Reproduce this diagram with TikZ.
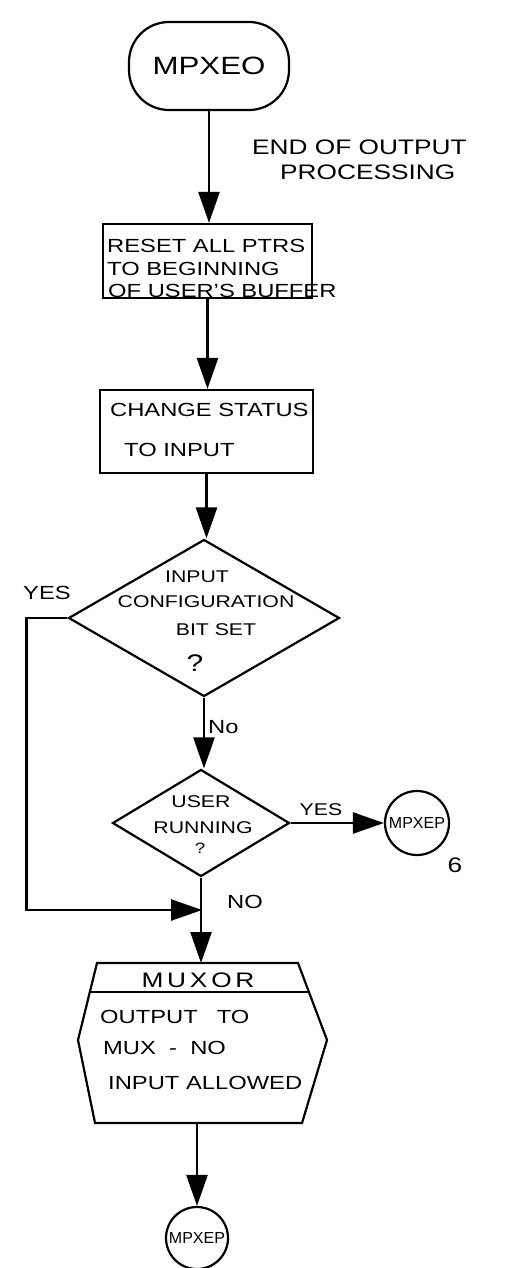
\documentclass[tikz,border=0pt]{standalone}
\usepackage{fontspec}
\setmainfont{Liberation Sans}[FakeStretch=1.25]
\newfontfamily\plainsans{Liberation Sans}
\usetikzlibrary{arrows.meta,shapes.geometric}
\begin{document}
\begin{tikzpicture}[x=1pt,y=-1pt,
  outline/.style={draw, line width=2.2pt, inner sep=0pt},
  flow/.style={line width=2.6pt, -{Triangle[length=31pt,width=21pt]}},
  txt/.style={inner sep=0pt, font=\fontsize{19}{19}\selectfont},
  dtxt/.style={inner sep=0pt, font=\fontsize{17}{17}\selectfont},
  note/.style={inner sep=0pt, font=\fontsize{21}{21}\selectfont},
  conn/.style={outline, circle, minimum size=64pt, font=\plainsans\fontsize{16}{16}\selectfont}
]
\useasboundingbox (0,0) rectangle (507,1268);

% entry terminal
\node[outline, rounded corners=40pt, minimum width=160pt, minimum height=88pt,
      font=\fontsize{25}{25}\selectfont] (start) at (209,66) {MPXEO};
\node[note, anchor=west] (n1) at (252,147) {END OF OUTPUT};
\node[note, anchor=west] (n2) at (280,172) {PROCESSING};

% reset pointers
\node[outline, minimum width=209pt, minimum height=74pt] (reset) at (207.5,261) {};
\node[txt, anchor=west] (r1) at (107,246) {RESET ALL PTRS};
\node[txt, anchor=west] (r2) at (107,269) {TO BEGINNING};
\node[txt, anchor=west] (r3) at (108,291) {OF USER'S BUFFER};

% change status
\node[outline, minimum width=213pt, minimum height=83pt] (status) at (206.5,431.5) {};
\node[txt, anchor=west] (s1) at (110,410) {CHANGE STATUS};
\node[txt, anchor=west] (s2) at (124,450) {TO INPUT};

% first decision
\node[outline, diamond, minimum width=271pt, minimum height=157pt] (d1) at (204,618) {};
\node[dtxt] (d1a) at (197,577) {INPUT};
\node[dtxt] (d1b) at (206,602) {CONFIGURATION};
\node[dtxt] (d1c) at (216,630) {BIT SET};
\node[dtxt, font=\fontsize{24}{24}\selectfont] (d1d) at (195,663) {?};
\node[txt, anchor=west] (yes1) at (23,593) {YES};
\node[txt, anchor=west] (no1) at (208,727) {No};

% second decision
\node[outline, diamond, minimum width=177pt, minimum height=107pt] (d2) at (201,823) {};
\node[dtxt] (d2a) at (201,802) {USER};
\node[dtxt] (d2b) at (203,828) {RUNNING};
\node[dtxt, font=\fontsize{15}{15}\selectfont] (d2c) at (200,848) {?};
\node[dtxt] (yes2) at (321,810) {YES};
\node[txt, anchor=west] (no2) at (227,902) {NO};

% off-page connector
\node[conn] (mpxep) at (417,823) {MPXEP};
\node[note] (pg) at (455,865) {6};

% merge point and output routine
\coordinate (join) at (202,910);
\coordinate (hxtop) at (201,963);
\coordinate (hxbot) at (197,1123);
\draw[line width=2.2pt] (97,963) -- (298,963) -- (327,1040) -- (302,1123)
  -- (95,1123) -- (78,1040) -- cycle;
\draw[line width=2pt] (90,992) -- (309,992);
\node[inner sep=0pt, font=\fontsize{21}{21}\selectfont\addfontfeature{LetterSpace=18}]
  (mux) at (198,980) {MUXOR};
\node[txt, anchor=west] (h1) at (100,1017) {OUTPUT\quad TO};
\node[txt, anchor=west] (h2) at (103,1048) {MUX \ -\ \ NO};
\node[txt, anchor=west] (h3) at (108,1083) {INPUT ALLOWED};

% exit connector
\node[conn, minimum size=62pt] (end) at (197,1238) {MPXEP};

% connectors
\draw[flow] (start.south) -- (start.south |- reset.north);
\draw[flow] (reset.south) -- (reset.south |- status.north);
\draw[flow] (status.south) -- (status.south |- d1.north);
\draw[flow] (d1.south) -- (d1.south |- d2.north);
\draw[flow] (d2.east) -- (mpxep.west);
\draw[flow] (d1.west) -- ++(-41,0) |- (join);
\draw[flow] (d2.south) -- (hxtop);
\draw[flow] (hxbot) -- (end.north);
\end{tikzpicture}
\end{document}
